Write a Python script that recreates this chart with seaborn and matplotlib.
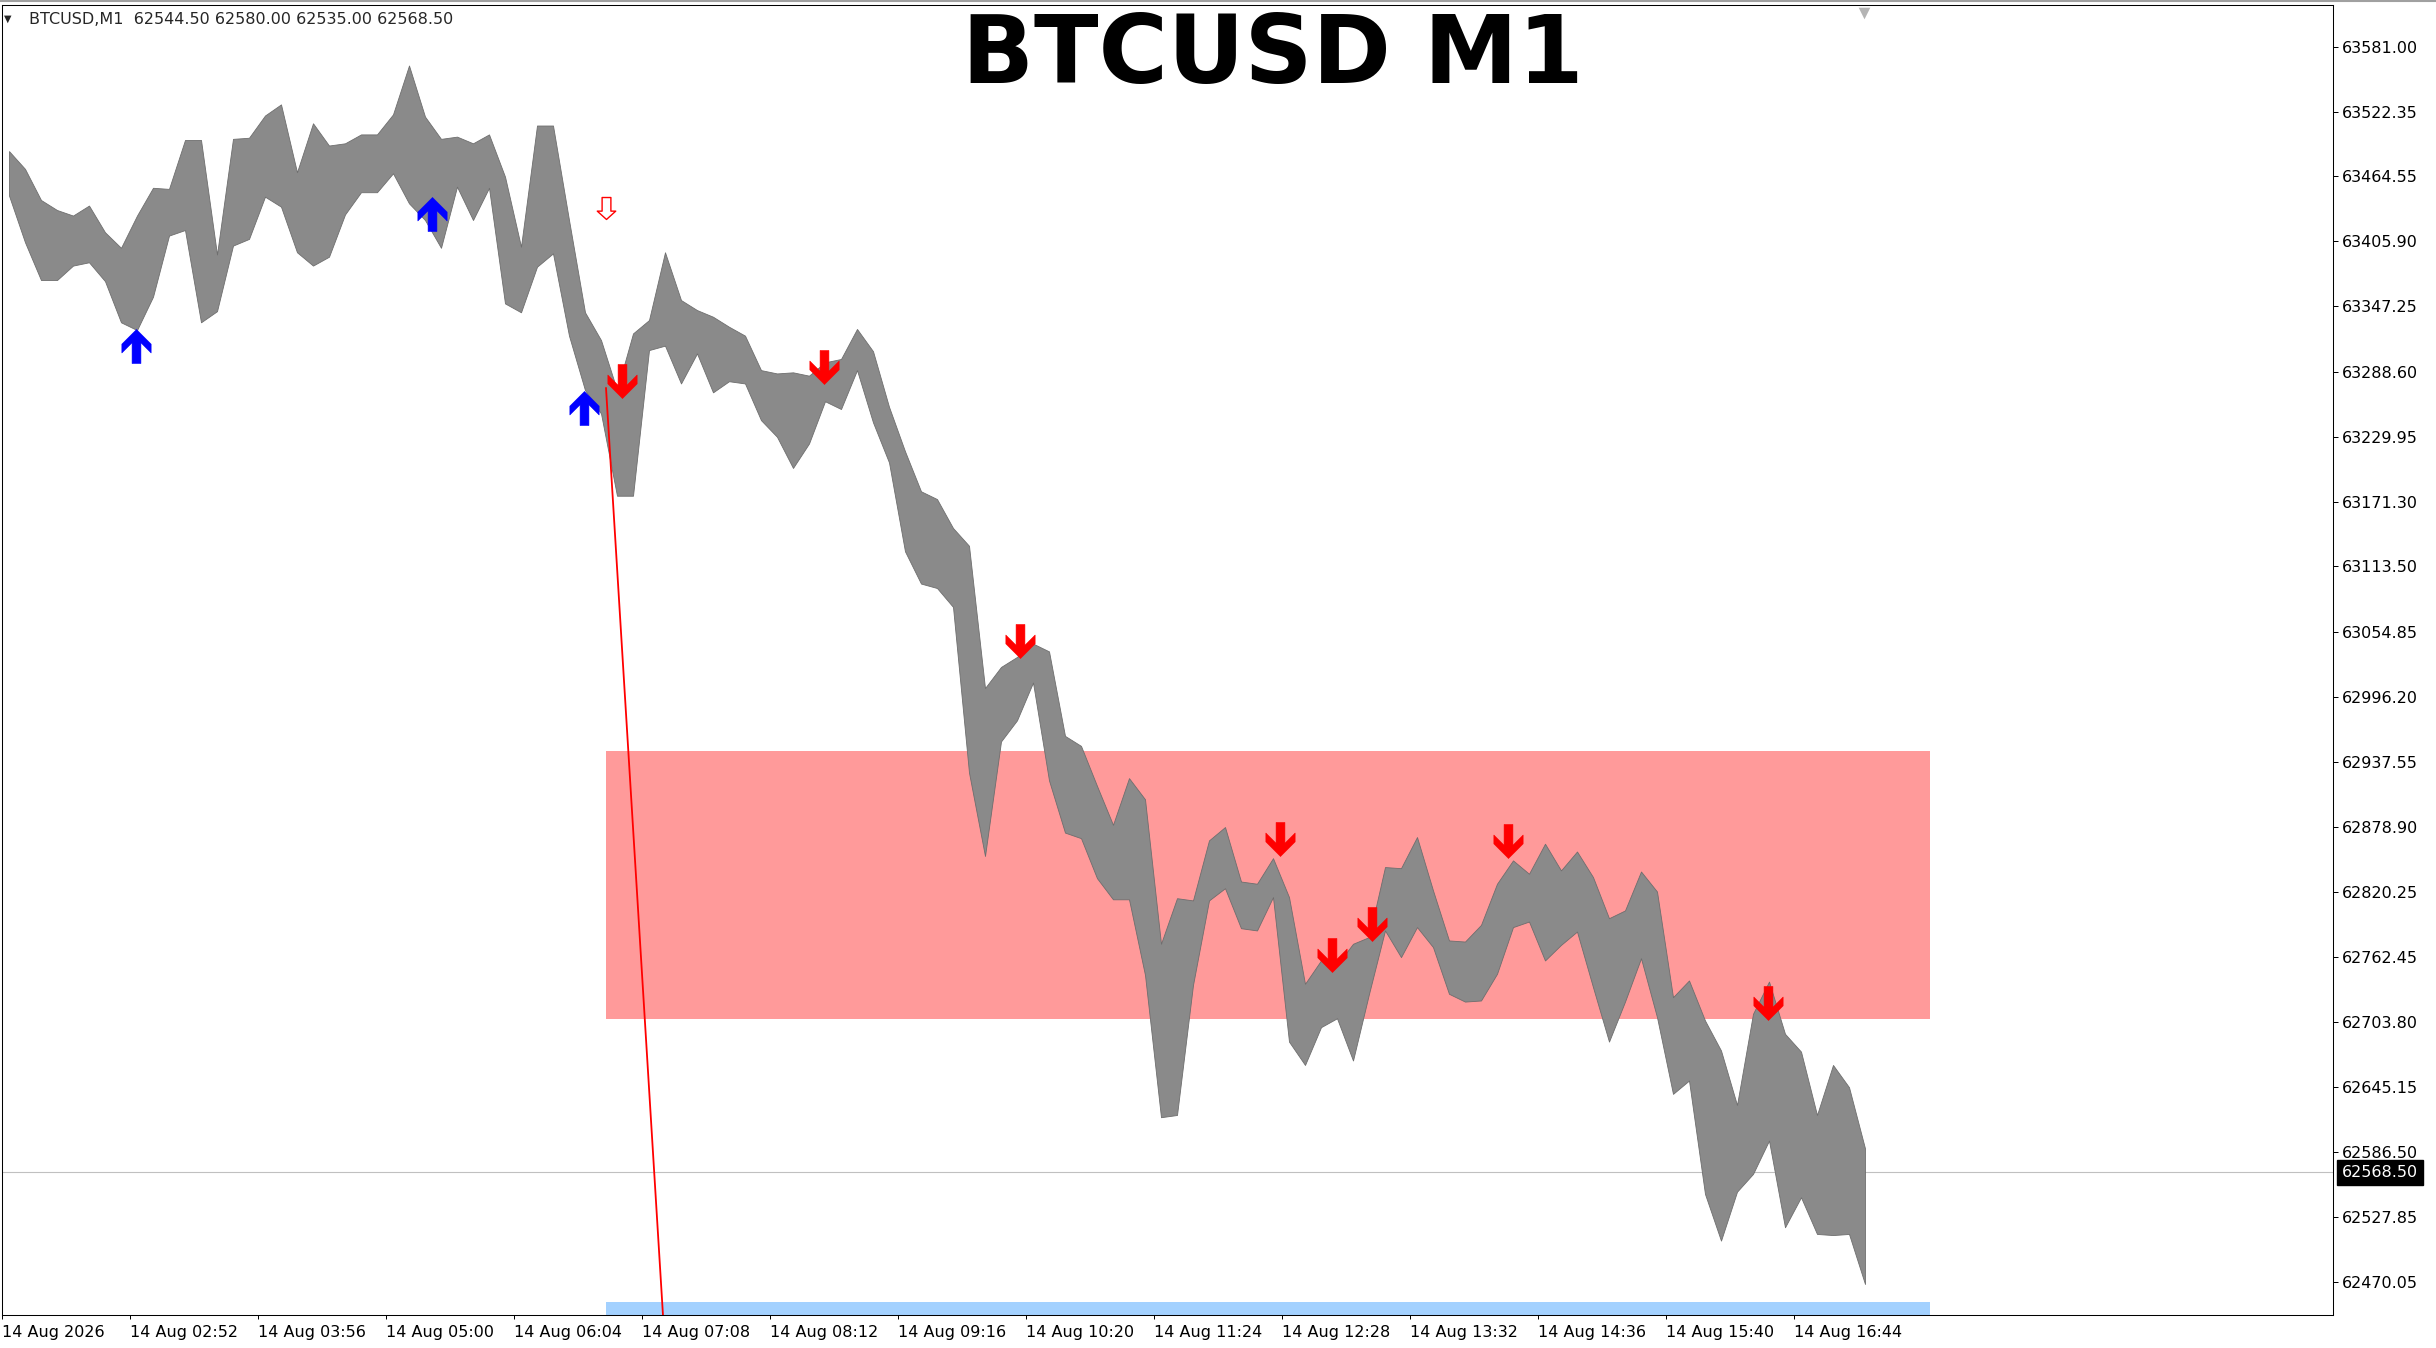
import numpy as np
import seaborn as sns
import matplotlib.pyplot as plt
import matplotlib.transforms as mtransforms
from matplotlib.path import Path

# M1 bars, grouped into 8-minute windows (high / low of each window)
BAR_WINDOW = 8
window_high = [
    63487, 63471, 63443, 63434, 63429, 63438, 63414, 63400, 63429, 63454,
    63453, 63497, 63497, 63394, 63498, 63499, 63519, 63529, 63468, 63512,
    63492, 63494, 63502, 63502, 63520, 63564, 63518, 63498, 63500, 63494,
    63502, 63464, 63401, 63510, 63510, 63425, 63342, 63317, 63272, 63323,
    63335, 63396, 63353, 63344, 63338, 63329, 63321, 63290, 63287, 63288,
    63285, 63297, 63300, 63327, 63307, 63257, 63217, 63181, 63174, 63148,
    63132, 63004, 63023, 63032, 63044, 63037, 62961, 62952, 62916, 62881,
    62923, 62904, 62774, 62815, 62813, 62867, 62879, 62830, 62828, 62851,
    62816, 62738, 62759, 62755, 62774, 62780, 62843, 62842, 62870, 62822,
    62777, 62776, 62791, 62828, 62849, 62837, 62864, 62840, 62857, 62834,
    62797, 62804, 62839, 62821, 62726, 62741, 62705, 62678, 62629, 62711,
    62740, 62693, 62677, 62620, 62665, 62645, 62590,
]
window_low = [
    63447, 63405, 63371, 63371, 63384, 63387, 63370, 63333, 63326, 63356,
    63411, 63416, 63333, 63343, 63402, 63408, 63446, 63437, 63396, 63384,
    63392, 63430, 63450, 63450, 63467, 63440, 63425, 63400, 63455, 63425,
    63454, 63350, 63342, 63383, 63395, 63321, 63272, 63251, 63177, 63177,
    63308, 63312, 63278, 63305, 63270, 63280, 63278, 63245, 63230, 63202,
    63224, 63262, 63255, 63290, 63243, 63207, 63127, 63098, 63094, 63077,
    62928, 62853, 62956, 62975, 63009, 62921, 62874, 62869, 62833, 62814,
    62814, 62746, 62618, 62620, 62737, 62813, 62824, 62788, 62786, 62816,
    62686, 62665, 62699, 62707, 62669, 62729, 62786, 62762, 62789, 62771,
    62729, 62722, 62723, 62747, 62789, 62794, 62759, 62773, 62785, 62735,
    62686, 62722, 62761, 62708, 62639, 62651, 62549, 62507, 62551, 62567,
    62597, 62519, 62546, 62513, 62512, 62513, 62468,
]

y_tick_values = [63581.00, 63522.35, 63464.55, 63405.90, 63347.25, 63288.60,
                 63229.95, 63171.30, 63113.50, 63054.85, 62996.20, 62937.55,
                 62878.90, 62820.25, 62762.45, 62703.80, 62645.15, 62586.50,
                 62527.85, 62470.05]
x_tick_labels = ["14 Aug 2026", "14 Aug 02:52", "14 Aug 03:56", "14 Aug 05:00",
                 "14 Aug 06:04", "14 Aug 07:08", "14 Aug 08:12", "14 Aug 09:16",
                 "14 Aug 10:20", "14 Aug 11:24", "14 Aug 12:28", "14 Aug 13:32",
                 "14 Aug 14:36", "14 Aug 15:40", "14 Aug 16:44"]
X_TICK_STEP = 64  # minutes between time labels

# signal arrows (bar index, price)
buy_idx = [67, 215, 291]
buy_price = [63312, 63430, 63256]
sell_idx = [310, 411, 509, 639, 665, 685, 753, 883]
sell_price = [63280, 63293, 63046, 62868, 62764, 62792, 62866, 62721]
hollow_idx = [302]
hollow_price = [63436]

# zones and trend line
zone_idx = [302, 964]
red_zone = [62706, 62947]
blue_zone = [62300, 62452]
trend_idx = [302, 331]
trend_price = [63274, 62425]

last_price = 62568.50
header_ohlc = [62544.50, 62580.00, 62535.00, 62568.50]
SHIFT_IDX = 931

W, H = 2436, 1348
sns.set_style("white")
plt.rcParams['font.family'] = ['DejaVu Sans']

fig = plt.figure(figsize=(W / 100, H / 100), dpi=100)
ax = fig.add_axes([1.5 / W, 1 - 1315 / H, (2333 - 1.5) / W, 1310 / H])
ax.set_xlim(-0.25, 1165.5)
ax.set_ylim(62440.1, 63618.4)

# zones
ax.fill_between(zone_idx, red_zone[0], red_zone[1], color='#ff9a9a', lw=0, zorder=1)
ax.fill_between(zone_idx, blue_zone[0], blue_zone[1], color='#a3d1ff', lw=0, zorder=1)

# current price line
ax.axhline(last_price, color='#c0c0c0', lw=0.8, zorder=0.5)

# bars (envelope of each window)
centers = np.arange(len(window_high)) * BAR_WINDOW + (BAR_WINDOW - 1) / 2
ax.fill_between(centers, window_low, window_high, color='#8a8a8a', lw=0.6,
                edgecolor='#6e6e6e', zorder=3)

# trend line
ax.plot(trend_idx, trend_price, color='red', lw=1.3, zorder=4)

# arrow markers
up_verts = [(0, 0.5), (0.43, 0.07), (0.43, -0.19), (0.13, 0.11), (0.13, -0.5),
            (-0.13, -0.5), (-0.13, 0.11), (-0.43, -0.19), (-0.43, 0.07), (0, 0.5)]
up_arrow = Path(up_verts, closed=True)
down_arrow = Path([(x, -y) for x, y in up_verts], closed=True)
hollow_verts = [(-0.2, 0.5), (0.2, 0.5), (0.2, -0.12), (0.42, -0.12), (0, -0.5),
                (-0.42, -0.12), (-0.2, -0.12), (-0.2, 0.5)]
hollow_arrow = Path(hollow_verts, closed=True)

sns.scatterplot(x=buy_idx, y=buy_price, marker=up_arrow, s=600, color='#0000ff',
                edgecolor='#0000ff', linewidth=0.4, ax=ax, zorder=5, legend=False)
sns.scatterplot(x=sell_idx, y=sell_price, marker=down_arrow, s=600, color='#ff0000',
                edgecolor='#ff0000', linewidth=0.4, ax=ax, zorder=5, legend=False)
ax.scatter(hollow_idx, hollow_price, marker=hollow_arrow, s=250, facecolor='white',
           edgecolor='#ff0000', linewidth=1.0, zorder=5)

# chart shift marker
ax.scatter([SHIFT_IDX], [0.994], marker='v', s=70, color='#b4b4b4', lw=0,
           transform=mtransforms.blended_transform_factory(ax.transData, ax.transAxes),
           clip_on=False, zorder=6)

# axes styling
for sp in ax.spines.values():
    sp.set_visible(True)
    sp.set_color('black')
    sp.set_linewidth(0.75)

ax.yaxis.tick_right()
ax.set_yticks(y_tick_values)
ax.set_yticklabels([f"{v:.2f}" for v in y_tick_values])
ax.tick_params(axis='y', direction='out', length=3.6, width=0.72, pad=3,
               labelsize=11.5, colors='black', right=True, left=False)
ax.set_xticks(np.arange(len(x_tick_labels)) * X_TICK_STEP)
ax.set_xticklabels(x_tick_labels, ha='left')
ax.tick_params(axis='x', direction='out', length=3, width=0.72, pad=4,
               labelsize=11.5, colors='black', bottom=True)
ax.grid(False)

# current price label
ax.text(1.0039, last_price, f"{last_price:.2f}", transform=mtransforms.blended_transform_factory(ax.transAxes, ax.transData),
        ha='left', va='center', fontsize=11.5, color='white', zorder=7, clip_on=False,
        bbox=dict(boxstyle='square,pad=0.3', fc='black', ec='black'))

# header and title
fig.text(4 / W, 1 - 19 / H, "\u25bc", fontsize=7, va='center', ha='left')
fig.text(29 / W, 1 - 19 / H, "BTCUSD,M1  " + " ".join(f"{v:.2f}" for v in header_ohlc),
         fontsize=11.5, va='center', ha='left')
fig.text(1273 / W, 1 - 83 / H, "BTCUSD M1", fontsize=68, fontweight='bold',
         ha='center', va='baseline', color='black')
fig.add_artist(plt.Line2D([0, 1], [1 - 1 / H, 1 - 1 / H], color='#a0a0a0', lw=1.5))

fig.savefig('out.png', dpi=100)
